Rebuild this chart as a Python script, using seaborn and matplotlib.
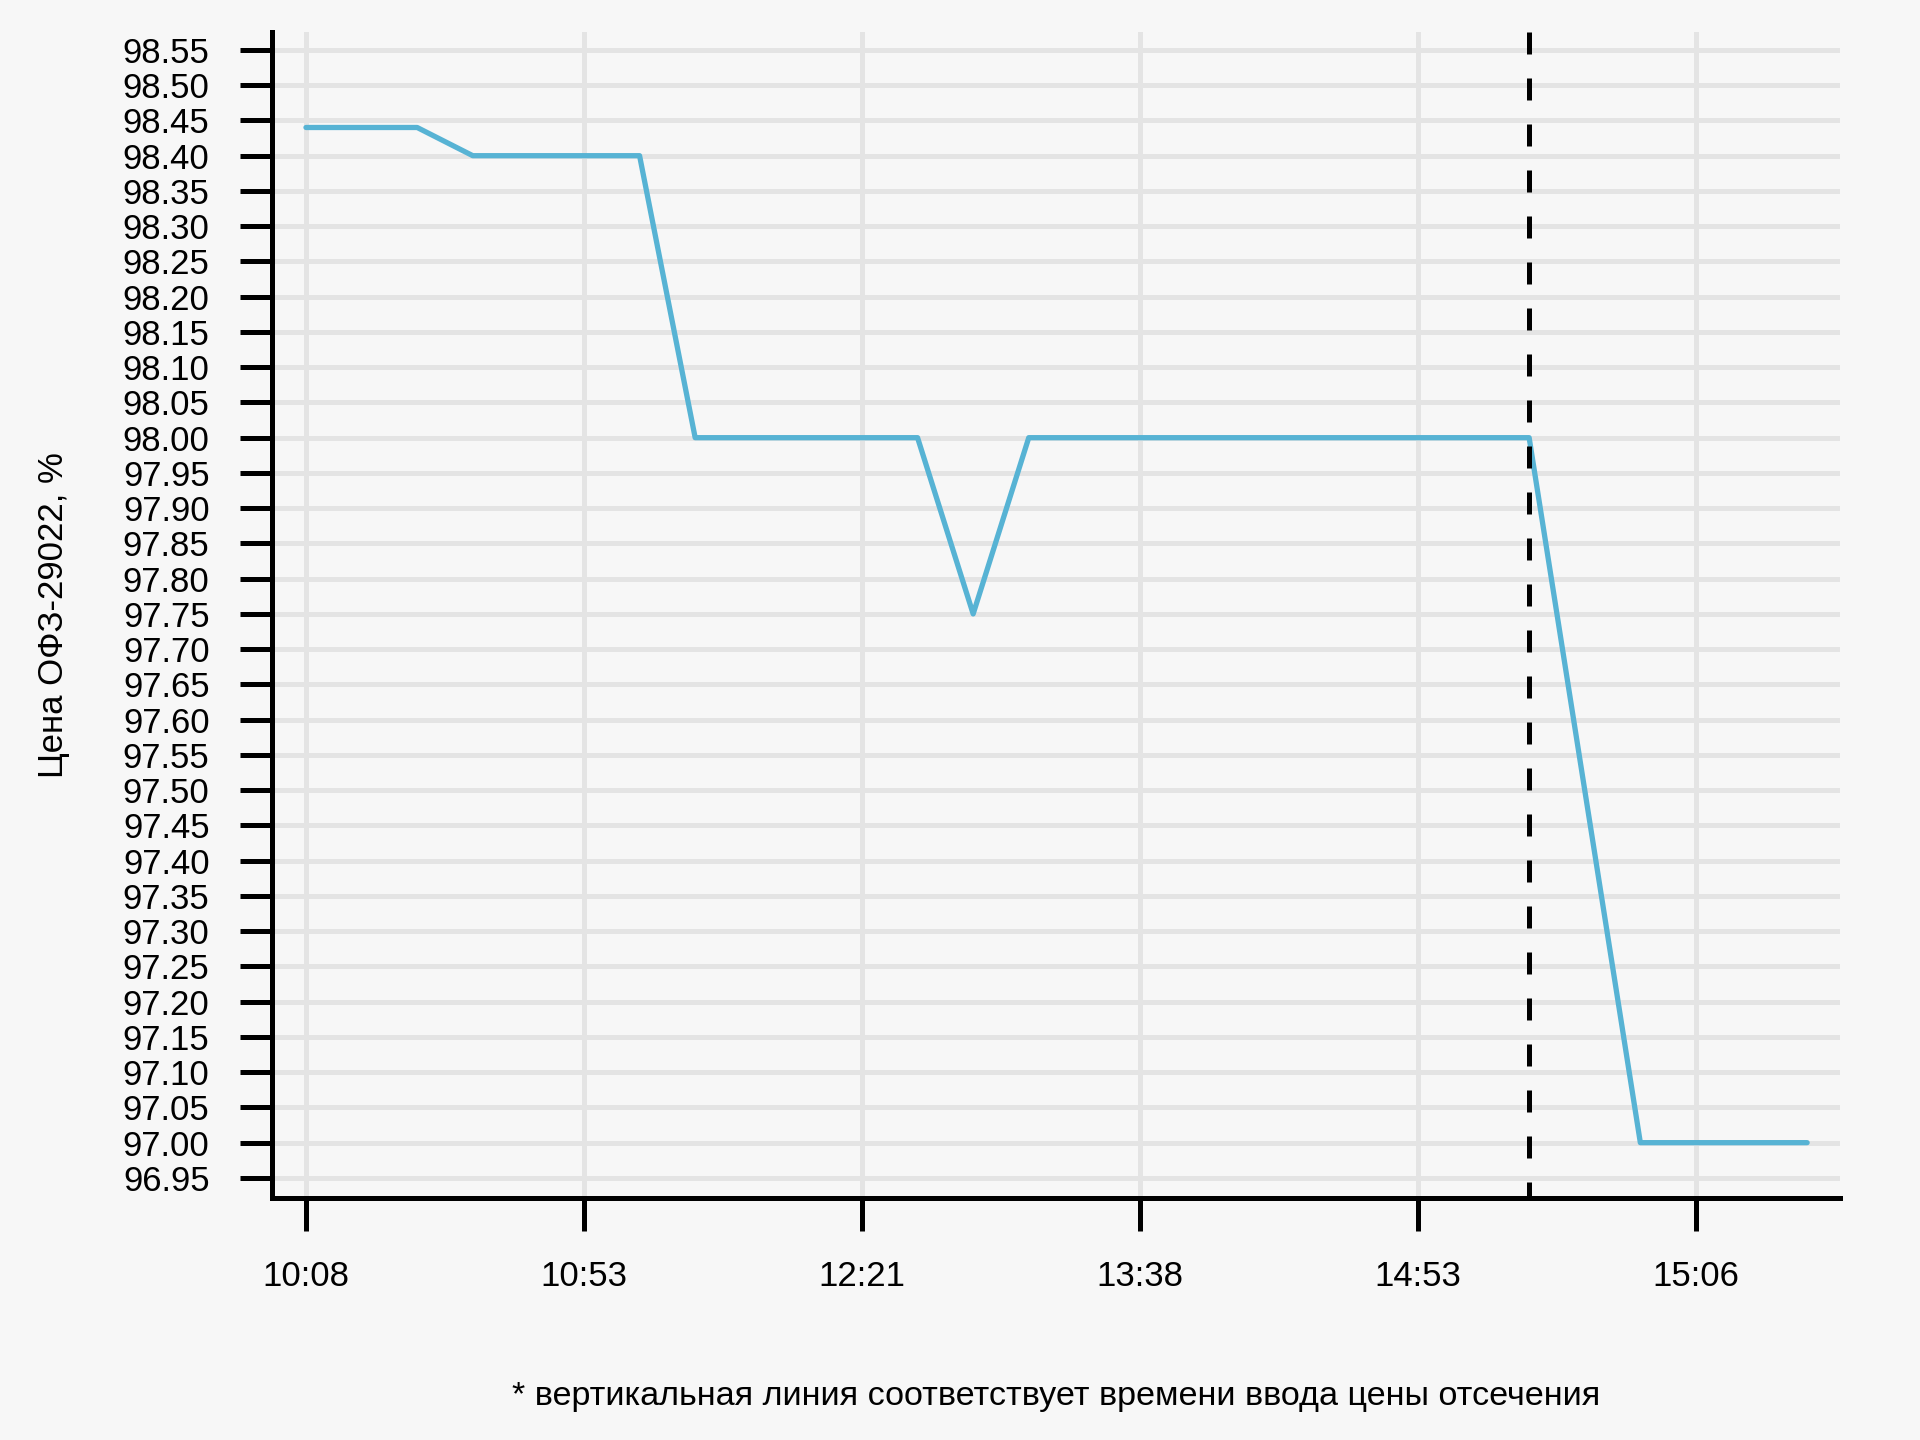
import matplotlib
matplotlib.use("Agg")
import matplotlib.pyplot as plt
import seaborn as sns
import numpy as np
import pandas as pd

# ---- data ----
prices = [98.44, 98.44, 98.44, 98.40, 98.40, 98.40, 98.40,
          98.00, 98.00, 98.00, 98.00, 98.00, 97.75, 98.00,
          98.00, 98.00, 98.00, 98.00, 98.00, 98.00, 98.00,
          98.00, 98.00, 97.50, 97.00, 97.00, 97.00, 97.00]
tick_positions = [0, 5, 10, 15, 20, 25]
tick_labels = ["10:08", "10:53", "12:21", "13:38", "14:53", "15:06"]
cutoff_index = 22
y_ticks = [round(96.95 + 0.05 * i, 2) for i in range(33)]
y_label = "Цена ОФЗ-29022, %"
footnote = "* вертикальная линия соответствует времени ввода цены отсечения"

df = pd.DataFrame({"idx": np.arange(len(prices)), "price": prices})

bg = "#f7f7f7"
sns.set_style("white", {"axes.facecolor": bg, "figure.facecolor": bg,
                        "xtick.bottom": True, "ytick.left": True})
plt.rcParams["font.family"] = ["Liberation Sans", "DejaVu Sans"]

fig = plt.figure(figsize=(9.6, 7.2), dpi=200)
ax = fig.add_axes([0.1417, 0.1683, 0.8166, 0.8095])
ax.set_facecolor(bg)

# grid
ax.set_xticks(tick_positions)
ax.set_yticks(y_ticks)
ax.grid(True, color="#e4e4e4", linewidth=1.8)
ax.set_axisbelow(True)

sns.lineplot(data=df, x="idx", y="price", ax=ax, color="#57b3d4", linewidth=1.9, zorder=3)
ax.axvline(cutoff_index, ymin=1, ymax=0, color="black", linewidth=1.8,
           linestyle=(0, (4.4, 4.8)), zorder=4)

ax.set_xlim(-0.61, 27.59)
ax.set_ylim(96.922, 98.5755)

ax.set_xticklabels(tick_labels)
ax.set_yticklabels([f"{v:.2f}" for v in y_ticks])

for s in ["top", "right"]:
    ax.spines[s].set_visible(False)
for s in ["left", "bottom"]:
    ax.spines[s].set_color("black")
    ax.spines[s].set_linewidth(1.8)

ax.tick_params(axis="both", which="major", direction="out", color="black",
               width=1.8, labelsize=12.5, labelcolor="black")
ax.tick_params(axis="y", left=True, length=11.5, pad=11)
ax.tick_params(axis="x", bottom=True, length=11.9, pad=10.5)

ax.set_xlabel("")
ax.set_ylabel(y_label, fontsize=12.5, color="black")
ax.yaxis.set_label_coords(-0.129, 0.5)

fig.text(0.55, 0.03, footnote, ha="center", va="center", fontsize=12.3, color="black")

fig.savefig("out.png", dpi=200, facecolor=bg)
